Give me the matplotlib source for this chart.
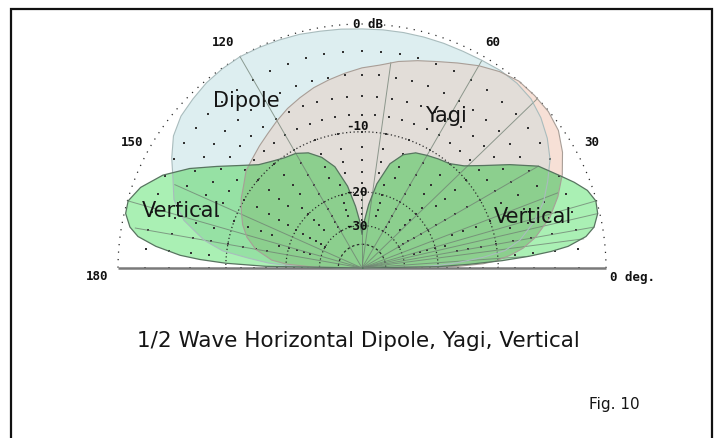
import numpy as np
import matplotlib
matplotlib.use("Agg")
import matplotlib.pyplot as plt
from matplotlib.patches import Polygon

# elevation angle in degrees (0 = right horizon, 180 = left horizon) and relative gain in dB
dipole_deg = [0, 1, 2, 3, 5, 7, 10, 15, 20, 25, 30, 35, 40, 45, 50, 55, 60, 65, 70, 75, 80, 85, 90,
              95, 100, 105, 110, 115, 120, 125, 130, 135, 140, 145, 150, 155, 160, 165, 170,
              173, 175, 177, 178, 179, 180]
dipole_db = [-100, -26, -20, -16.5, -12, -9, -7.2, -5.4, -4.0, -3.0, -2.0, -1.3, -0.75, -0.35, -0.2,
             -0.2, -0.3, -0.35, -0.35, -0.35, -0.35, -0.35, -0.35,
             -0.3, -0.25, -0.15, -0.1, -0.05, 0, -0.05, -0.15, -0.35, -0.55, -1.0, -1.8, -2.7, -3.4,
             -4.8, -7.2, -9.5, -13, -16.5, -20, -26, -100]

yagi_deg = [0, 1, 2, 3, 5, 7, 10, 15, 20, 25, 30, 35, 40, 45, 50, 55, 60, 65, 70, 75, 80, 85, 90,
            95, 100, 105, 110, 115, 120, 125, 130, 135, 140, 145, 150, 155, 160, 165, 170, 175,
            177, 179, 180]
yagi_db = [-100, -16, -12, -10.3, -8.4, -7.0, -5.6, -3.9, -2.7, -1.7, -0.9, -0.3, -0.05, 0, 0, -0.3,
           -0.75, -1.3, -1.8, -2.2, -2.6, -3.1, -3.4, -3.8, -4.2, -4.6, -5.1, -5.6, -6.2, -6.8,
           -7.3, -7.8, -8.2, -9.0, -9.6, -10.4, -11.2, -12.3, -14, -17, -20, -28, -100]

vert_deg = [0, 1, 2, 3, 4, 5, 6, 8, 10, 13, 16, 19, 22, 25, 30, 35, 40, 45, 50, 55, 60, 65, 70, 75,
            80, 84, 87, 89, 90, 91, 93, 96, 100, 105, 110, 115, 120, 125, 130, 135, 140, 145, 150,
            155, 160, 164, 167, 170, 172, 174, 176, 177, 178, 179, 180]
vert_db = [-100, -20, -14, -9.5, -6.5, -4.3, -2.8, -1.3, -0.6, -0.15, -0.05, -0.4, -1.1, -1.9, -3.1,
           -5.2, -7.3, -9.0, -10.0, -10.4, -10.8, -11.2, -12.1, -14.0, -18.0, -23.0, -28, -32, -34,
           -32, -28, -23.5, -18.5, -14.5, -12.5, -11.2, -10.5, -10.2, -9.6, -8.8, -7.3, -5.5, -3.5,
           -1.8, -0.6, -0.05, -0.1, -0.6, -1.3, -2.8, -5.0, -7.0, -10.0, -16, -100]

# solid radial lines left over from the individual plots: angle and where they stop
spoke_deg = [4, 7.5, 10, 13, 16, 21, 30, 44, 60, 82, 90, 120, 156, 164, 170]
spoke_db = [-6.5, -1.5, -0.6, -0.15, -0.05, -2.6, -3.1, 0, -0.3, -2.8, -20, 0, -3.0, 0, -1.0]

ring_db = [0, -10, -20, -30, -40]
ring_labels = ['0 dB', '-10', '-20', '-30']
angle_labels = ['0 deg.', '30', '60', '120', '150', '180']


def rad(db):
    # ARRL log scale: radius shrinks by 0.89 for every 2 dB
    return 0.89 ** (-np.asarray(db, dtype=float) / 2.0)


def to_xy(deg, db):
    th = np.radians(np.asarray(deg, dtype=float))
    r = rad(db)
    return np.column_stack([r * np.cos(th), r * np.sin(th)])


W, H = 716, 438
CX, CY, R = 362, 268, 244


def px(x, y):
    return (x - CX) / R, (CY - y) / R


fig = plt.figure(figsize=(W / 100, H / 100), dpi=100)
fig.patch.set_facecolor('white')
ax = fig.add_axes([0, 0, 1, 1])
ax.set_xlim(-CX / R, (W - CX) / R)
ax.set_ylim(-(H - CY) / R, CY / R)
ax.axis('off')

# ---- pattern fills (overlaps coloured by clipping) ----
dip_xy = to_xy(dipole_deg, dipole_db)
yagi_xy = to_xy(yagi_deg, yagi_db)
vert_xy = to_xy(vert_deg, vert_db)

dip = Polygon(dip_xy, closed=True, fc='#ddeef0', ec='none', zorder=1)
ax.add_patch(dip)

yagi = Polygon(yagi_xy, closed=True, fc='#f7e0d6', ec='none', zorder=1.1)
ax.add_patch(yagi)
yagi_in = Polygon(yagi_xy, closed=True, fc='#e2ddd8', ec='none', zorder=1.2)
ax.add_patch(yagi_in)
yagi_in.set_clip_path(dip)

vert = Polygon(vert_xy, closed=True, fc='#aaf0b4', ec='none', zorder=1.3)
ax.add_patch(vert)
vert_dip = Polygon(vert_xy, closed=True, fc='#96e1a4', ec='none', zorder=1.4)
ax.add_patch(vert_dip)
vert_dip.set_clip_path(dip)
vert_yagi = Polygon(vert_xy, closed=True, fc='#8ccf8e', ec='none', zorder=1.5)
ax.add_patch(vert_yagi)
vert_yagi.set_clip_path(yagi)

# ---- grid ----
arc = np.radians(np.linspace(0, 180, 361))
for db in ring_db:
    r = rad(db)
    if db == 0:
        ls = (0, (1, 5))
    elif db == -40:
        ls = (0, (2, 2))
    else:
        ls = (0, (1, 2))
    ax.plot(r * np.cos(arc), r * np.sin(arc), color='#2a2a2a', lw=0.9, ls=ls, zorder=2)

# sparse dot lattice every 2 dB, thinner towards the centre
for db in range(-2, -31, -2):
    rp = rad(db) * R
    step = 5 if rp > 150 else 10 if rp > 90 else 15 if rp > 50 else 30
    d = np.arange(0, 181, step)
    lat = to_xy(d, np.full(d.shape, db))
    ax.scatter(lat[:, 0], lat[:, 1], s=1.3, marker='s', color='#333333', linewidths=0, zorder=2)

for d, db in zip(spoke_deg, spoke_db):
    end = to_xy([d], [db])[0]
    ax.plot([0, end[0]], [0, end[1]], color='#6f7f72', lw=0.7, alpha=0.75, zorder=2.1)

ax.plot([-1, 1], [0, 0], color='#7a7a7a', lw=1.8, zorder=2.5, solid_capstyle='butt')

# ---- pattern outlines ----
for xy, ec, lw in [(dip_xy, '#a9bcbd', 0.8), (yagi_xy, '#a89e97', 0.8), (vert_xy, '#587460', 0.9)]:
    closed = np.vstack([xy, xy[:1]])
    ax.plot(closed[:, 0], closed[:, 1], color=ec, lw=lw, zorder=3)

# ---- scale labels ----
mono = dict(family='DejaVu Sans Mono', weight='bold', fontsize=9, color='#111111', zorder=5)
ring_pos = [(368, 25), (357, 127), (356, 193), (356, 227)]
for lab, (x, y) in zip(ring_labels, ring_pos):
    ax.text(*px(x, y), lab, ha='center', va='center', **mono)

angle_pos = [(610, 277, 'left'), (592, 143, 'center'), (493, 43, 'center'),
             (223, 43, 'center'), (132, 143, 'center'), (108, 277, 'right')]
for lab, (x, y, ha) in zip(angle_labels, angle_pos):
    ax.text(*px(x, y), lab, ha=ha, va='center', **mono)

# ---- pattern names ----
sans = dict(family='DejaVu Sans', fontsize=15, color='#151515', zorder=5, ha='center', va='center')
ax.text(*px(246, 101), 'Dipole', **sans)
ax.text(*px(446, 116), 'Yagi', **sans)
ax.text(*px(181, 211), 'Vertical', **sans)
ax.text(*px(533, 217), 'Vertical', **sans)

fig.text(358 / W, 1 - 341 / H, '1/2 Wave Horizontal Dipole, Yagi, Vertical',
         family='DejaVu Sans', fontsize=15.5, color='#151515', ha='center', va='center')
fig.text(614 / W, 1 - 404 / H, 'Fig. 10', family='DejaVu Sans', fontsize=11,
         color='#151515', ha='center', va='center')

# ---- frame ----
ax.plot(*zip(px(11, H + 5), px(11, 9), px(712, 9), px(712, H + 5)),
        color='#111111', lw=1.6, zorder=6, solid_joinstyle='miter')

fig.savefig('out.png', dpi=100, facecolor='white')
